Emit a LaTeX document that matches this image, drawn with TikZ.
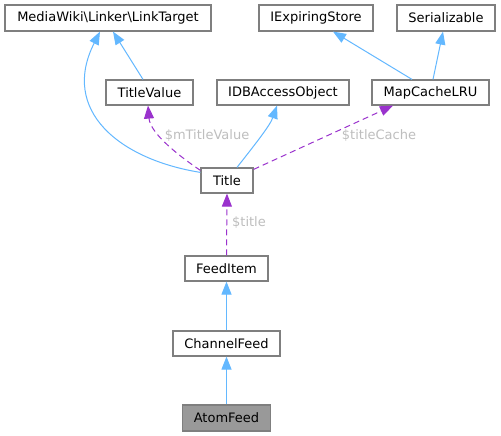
\documentclass[tikz,border=0pt]{standalone}
\usepackage{fontspec}
\setmainfont{DejaVu Sans}
\usetikzlibrary{arrows.meta}
\definecolor{edgeblue}{HTML}{63B8FF}
\definecolor{edgepurple}{HTML}{9A32CD}
\definecolor{lblgray}{HTML}{BEBEBE}
\definecolor{boxborder}{HTML}{7F7F7F}
\definecolor{curfill}{HTML}{999999}
\begin{document}
\begin{tikzpicture}[x=1bp,y=-1bp,
  font=\fontsize{13bp}{15bp}\selectfont,
  cls/.style={draw=boxborder,line width=1.2bp,fill=white,minimum height=25bp,inner sep=0pt,anchor=center},
  inh/.style={draw=edgeblue,line width=1bp,-{Triangle[length=13bp,width=10bp]},fill=none},
  usage/.style={draw=edgepurple,line width=1bp,dash pattern=on 6bp off 4bp,-{Triangle[length=13bp,width=10bp,fill=edgepurple]}},
  lbl/.style={text=lblgray,inner sep=0pt}]
\useasboundingbox (0,0) rectangle (501,436);
\fill[white] (0,0) rectangle (501,436);

\node[cls,minimum width=206bp,minimum height=26bp] (mw) at (108,18) {MediaWiki\textbackslash Linker\textbackslash LinkTarget};
\node[cls,minimum width=114bp,minimum height=26bp] (ies) at (316,18) {IExpiringStore};
\node[cls,minimum width=98bp,minimum height=26bp] (ser) at (446,18) {Serializable};
\node[cls,minimum width=87bp] (tv) at (149.5,92.5) {TitleValue};
\node[cls,minimum width=132bp] (idb) at (283,92.5) {IDBAccessObject};
\node[cls,minimum width=117bp] (mc) at (430.5,92.5) {MapCacheLRU};
\node[cls,minimum width=52bp] (title) at (227,180.5) {Title};
\node[cls,minimum width=83bp] (fi) at (226.5,268.5) {FeedItem};
\node[cls,minimum width=107bp] (cf) at (226.5,343.5) {ChannelFeed};
\node[cls,minimum width=88bp,minimum height=26bp,fill=curfill] (af) at (226.5,418) {AtomFeed};

% inheritance
\draw[inh] ([yshift=-5bp]title.north west) .. controls +(-81,-13) and +(-40,79) .. ([xshift=-8bp]mw.south);
\draw[inh] ([xshift=-6.5bp]tv.north) -- ([xshift=5bp]mw.south);
\draw[inh] ([xshift=10bp]title.north) .. controls +(18,-23) and +(-7,20) .. ([xshift=-6bp]idb.south);
\draw[inh] ([xshift=-18.5bp]mc.north) -- ([xshift=17bp]ies.south);
\draw[inh] ([xshift=2.5bp]mc.north) -- ([xshift=-3bp]ser.south);
\draw[inh] (cf.north) -- (fi.south);
\draw[inh] (af.north) -- (cf.south);

% usage
\draw[usage] ([yshift=-3bp]title.north west) .. controls +(-31,-21) and +(2,25) .. ([xshift=-1.5bp]tv.south);
\draw[usage] ([yshift=-2bp]title.north east) -- ([xshift=-37.5bp]mc.south);
\draw[usage] (fi.north) -- (title.south);

\node[lbl] (l1) at (207,136) {\$mTitleValue};
\node[lbl] (l2) at (379,136) {\$titleCache};
\node[lbl] (l3) at (249,223) {\$title};
\end{tikzpicture}
\end{document}
